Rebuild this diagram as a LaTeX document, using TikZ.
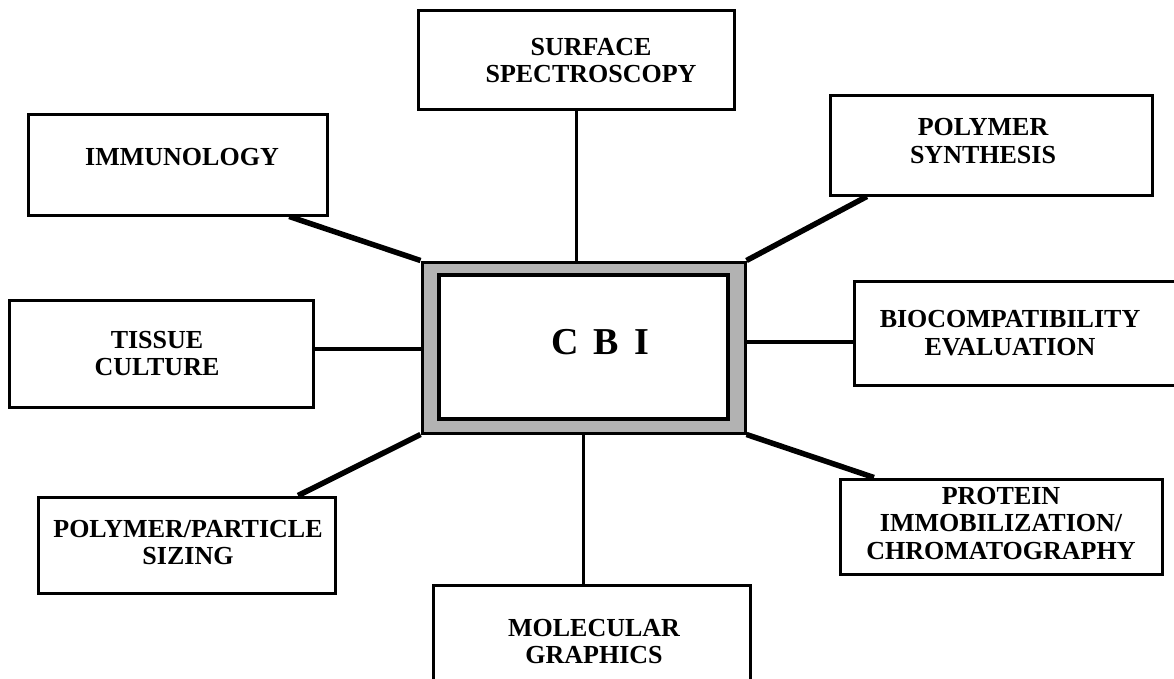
\documentclass[tikz,border=0pt]{standalone}
\usepackage{fontspec}
\setmainfont{Liberation Serif}
\usetikzlibrary{calc,backgrounds}
\begin{document}
\begin{tikzpicture}[x=1pt,y=-1pt,
  box/.style={draw=black, line width=3pt, fill=white, inner sep=0pt},
  lab/.style={font=\fontsize{26}{27.5}\selectfont\bfseries, align=center, inner sep=0pt},
  conthick/.style={line width=5.5pt},
  conthin/.style={line width=3pt},
  conmid/.style={line width=4pt}]
\useasboundingbox (0,0) rectangle (1174,679);
% outer boxes
\node[box, minimum width=316, minimum height=99,
  label={[lab,xshift=15pt]center:SURFACE\\SPECTROSCOPY}] (surf) at (576,60.5) {};
\node[box, minimum width=299, minimum height=100,
  label={[lab,xshift=4.5pt,yshift=8pt]center:IMMUNOLOGY}] (imm) at (177.5,165) {};
\node[box, minimum width=322, minimum height=99,
  label={[lab,xshift=-8pt,yshift=4.5pt]center:POLYMER\\SYNTHESIS}] (poly) at (991,145.5) {};
\node[box, minimum width=304, minimum height=107,
  label={[lab,xshift=-4pt]center:TISSUE\\CULTURE}] (tis) at (161,353.5) {};
\node[box, minimum width=336, minimum height=104,
  label={[lab,xshift=-12pt]center:BIOCOMPATIBILITY\\EVALUATION}] (bio) at (1022,333) {};
\node[box, minimum width=297, minimum height=96,
  label={[lab,xshift=1.5pt,yshift=2.5pt]center:POLYMER/PARTICLE\\SIZING}] (pp) at (186.5,545) {};
\node[box, minimum width=322, minimum height=95,
  label={[lab,yshift=3pt]center:PROTEIN\\IMMOBILIZATION/\\CHROMATOGRAPHY}] (prot) at (1001,526.5) {};
\node[box, minimum width=317, minimum height=105,
  label={[lab,xshift=2.5pt,yshift=-4pt]center:MOLECULAR\\GRAPHICS}] (mol) at (591.5,637.5) {};
% centre
\node[box, fill=black!30, minimum width=323, minimum height=171] (cbi) at (583.5,347.5) {};
\node[box, line width=3.5pt, minimum width=289, minimum height=144,
  label={[font=\fontsize{38}{40}\selectfont\bfseries, inner sep=0pt, xshift=16.5pt, yshift=5pt]center:C\hspace{0.4em}B\hspace{0.4em}I}] (cbiin) at (583.5,347) {};
% connectors
\begin{scope}[on background layer]
\draw[conthick] ($(imm.south west)!0.87!(imm.south east)$) -- (cbi.north west);
\draw[conthin] (surf.south) -- (surf.south |- cbi.north);
\draw[conthick] ($(poly.south west)!0.118!(poly.south east)$) -- (cbi.north east);
\coordinate (tisend) at ($(cbi.north west)!0.51!(cbi.south west)$);
\draw[conmid] (tis.east |- tisend) -- (tisend);
\coordinate (bioend) at ($(cbi.north east)!0.47!(cbi.south east)$);
\draw[conmid] (bioend) -- (bioend -| bio.west);
\draw[conthick] ($(pp.north west)!0.872!(pp.north east)$) -- (cbi.south west);
\draw[conthin] (cbi.south) -- (cbi.south |- mol.north);
\draw[conthick] (cbi.south east) -- ($(prot.north west)!0.109!(prot.north east)$);
\end{scope}
\end{tikzpicture}
\end{document}
